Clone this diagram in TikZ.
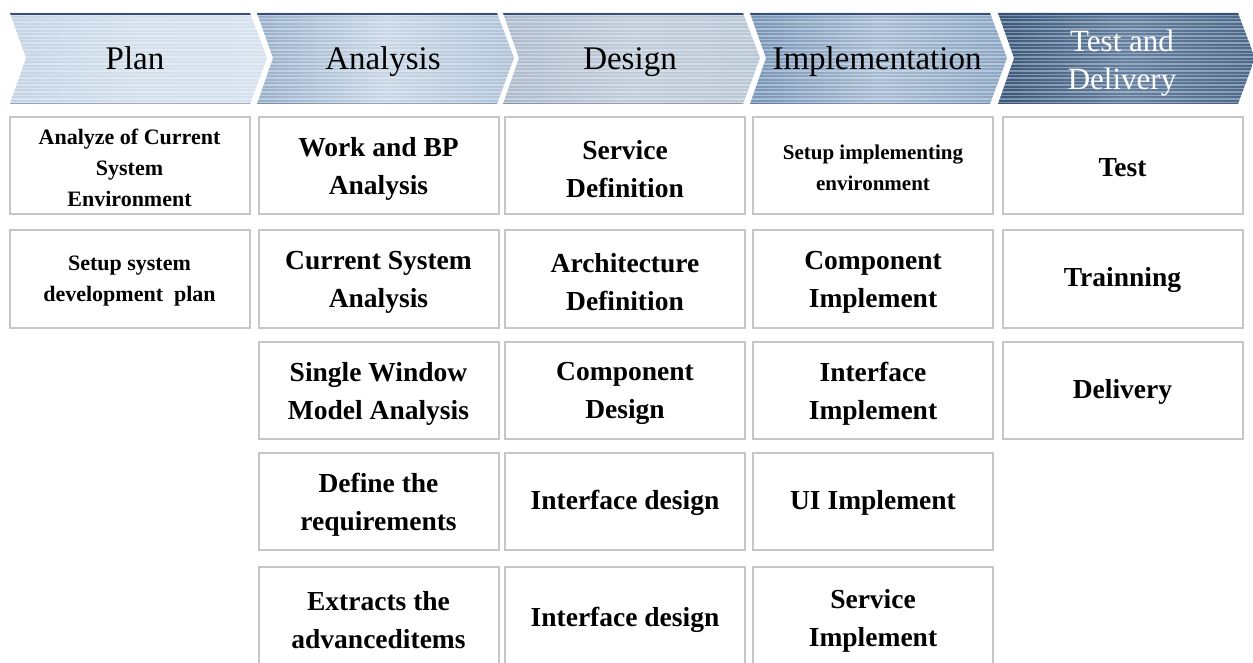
\documentclass[tikz,border=0pt]{standalone}
\usepackage{fontspec}
\setmainfont{Liberation Serif}
\definecolor{boxgray}{HTML}{C6C6C6}
\definecolor{topline}{HTML}{34507A}
\newcommand{\mychev}[4]{%
  \definecolor{chl}{HTML}{#2}\definecolor{chm}{HTML}{#3}\definecolor{chr}{HTML}{#4}%
  \path[left color=chl, right color=chr, middle color=chm]
    (#1,13) -- ++(240,0) -- ++(17,45) -- ++(-17,46) -- ++(-240,0) -- ++(16,-46) -- cycle;
  \begin{scope}
    \clip (#1,13) -- ++(240,0) -- ++(17,45) -- ++(-17,46) -- ++(-240,0) -- ++(16,-46) -- cycle;
    \foreach \yy in {15,18.5,...,104} \draw[white, opacity=.35, line width=1.2pt] (#1,\yy) -- ++(260,0);
    \draw[topline, line width=2.5pt] (#1,14) -- ++(260,0);
    \draw[topline, opacity=.35, line width=1.5pt] (#1,103.5) -- ++(260,0);
  \end{scope}
}
\tikzset{
  box/.style={draw=boxgray, line width=2pt, minimum width=240pt, minimum height=97pt,
    inner sep=0pt, fill=white},
  txt/.style={align=center, inner sep=0pt, font=\fontsize{27.5}{38}\selectfont\bfseries},
  smalltxt/.style={txt, font=\fontsize{22}{31}\selectfont\bfseries},
  head/.style={align=center, inner sep=0pt, anchor=base, font=\fontsize{33}{38}\selectfont},
}
\begin{document}
\begin{tikzpicture}[x=1pt,y=-1pt]
\useasboundingbox[fill=white] (0,0) rectangle (1253,663);
% chevrons
\mychev{10}{C4D3E5}{D3DFEC}{D6E1EE}
\mychev{257}{98AFCA}{C9D7E6}{AFC2D7}
\mychev{503}{ACBACB}{C1CCDA}{B9C6D5}
\mychev{750}{7794B6}{A8BCD3}{8AA5C3}
\mychev{998}{3A5679}{6580A0}{4A6789}
\node[head] (h1) at (135,70) {Plan};
\node[head] (h2) at (383,70) {Analysis};
\node[head] (h3) at (630,70) {Design};
\node[head] (h4) at (877,70) {Implementation};
\node[align=center, text=white, font=\fontsize{31}{38}\selectfont] (h5) at (1122,63) {Test and\\Delivery};
% boxes
\node[box] (b11) at (129.5,166) {};
\node[box] (b12) at (129.5,279) {};
\node[box] (b21) at (378.5,166) {};
\node[box] (b22) at (378.5,279) {};
\node[box] (b23) at (378.5,390.5) {};
\node[box] (b24) at (378.5,501.5) {};
\node[box] (b25) at (378.5,615.5) {};
\node[box] (b31) at (625,166) {};
\node[box] (b32) at (625,279) {};
\node[box] (b33) at (625,390.5) {};
\node[box] (b34) at (625,501.5) {};
\node[box] (b35) at (625,615.5) {};
\node[box] (b41) at (873,166) {};
\node[box] (b42) at (873,279) {};
\node[box] (b43) at (873,390.5) {};
\node[box] (b44) at (873,501.5) {};
\node[box] (b45) at (873,615.5) {};
\node[box] (b51) at (1122.5,166) {};
\node[box] (b52) at (1122.5,279) {};
\node[box] (b53) at (1122.5,390.5) {};
% texts
\node[smalltxt] (t11) at ([yshift=-2pt]b11.center) {Analyze of Current\\System\\Environment};
\node[smalltxt] (t12) at ([yshift=-2pt]b12.center) {Setup system\\development\enspace plan};
\node[txt] (t21) at ([yshift=-3pt]b21.center) {Work and BP\\Analysis};
\node[txt] (t22) at ([yshift=-3pt]b22.center) {Current System\\Analysis};
\node[txt] (t23) at ([yshift=-3pt]b23.center) {Single Window\\Model Analysis};
\node[txt] (t24) at ([yshift=-3pt]b24.center) {Define the\\requirements};
\node[txt] (t25) at ([yshift=-5pt]b25.center) {Extracts the\\advanceditems};
\node[txt] (t31) at ([yshift=-3pt]b31.center) {Service\\Definition};
\node[txt] (t32) at ([yshift=-3pt]b32.center) {Architecture\\Definition};
\node[txt] (t33) at ([yshift=-3pt]b33.center) {Component\\Design};
\node[txt] (t34) at ([yshift=-1pt]b34.center) {Interface design};
\node[txt] (t35) at ([yshift=-4pt]b35.center) {Interface design};
\node[smalltxt, font=\fontsize{21}{31}\selectfont\bfseries] (t41) at ([yshift=-2pt]b41.center) {Setup implementing\\environment};
\node[txt] (t42) at ([yshift=-3pt]b42.center) {Component\\Implement};
\node[txt] (t43) at ([yshift=-3pt]b43.center) {Interface\\Implement};
\node[txt] (t44) at ([yshift=-1pt]b44.center) {UI Implement};
\node[txt] (t45) at ([yshift=-5pt]b45.center) {Service\\Implement};
\node[txt] (t51) at ([yshift=-2pt]b51.center) {Test};
\node[txt] (t52) at ([yshift=-1pt]b52.center) {Trainning};
\node[txt] (t53) at ([yshift=-1pt]b53.center) {Delivery};
\end{tikzpicture}
\end{document}
